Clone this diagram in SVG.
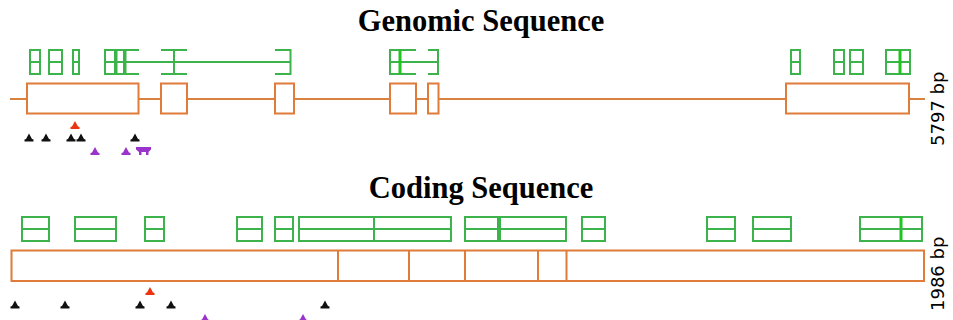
<svg xmlns="http://www.w3.org/2000/svg" xmlns:xlink="http://www.w3.org/1999/xlink" width="953" height="320" viewBox="0 0 953 320">
<style>
.title{font-family:"Liberation Serif","Times New Roman",serif;font-weight:bold;font-size:30.5px;fill:#000;text-anchor:middle}
.len{font-family:"DejaVu Sans",sans-serif;font-size:18px;fill:#000}
.ex{fill:#fff;stroke:#e07b39;stroke-width:2}
.intron{stroke:#d9823f;stroke-width:2;fill:none}
.dom{fill:none;stroke:#3cb44b;stroke-width:2}
.thick{stroke:#1fc41f;stroke-width:3}
.blk{fill:#111}
.red{fill:#ee3311}
.pur{fill:#9933cc}
</style>
<defs>
<path id="tri" d="M0,0 L3,5.5 L4.5,6 L4.5,8 L-4.5,8 L-4.5,6 L-3,5.5 Z"/>
</defs>
<g id="genomic">
<text class="title" x="481" y="31">Genomic Sequence</text>
<text class="len" transform="translate(944,146) rotate(-90)">5797 bp</text>
<g id="genomic-domains">
<rect class="dom" x="30" y="50" width="10" height="24"/>
<rect class="dom" x="49" y="50" width="13" height="24"/>
<rect class="dom" x="73" y="50" width="6" height="24"/>
<rect class="dom" x="105" y="50" width="10" height="24"/>
<rect class="dom" x="116.5" y="50" width="7.5" height="24"/>
<line class="dom" x1="30" y1="62" x2="40" y2="62"/>
<line class="dom" x1="49" y1="62" x2="62" y2="62"/>
<line class="dom" x1="73" y1="62" x2="79" y2="62"/>
<line class="dom" x1="105" y1="62" x2="115" y2="62"/>
<line class="dom" x1="116.5" y1="62" x2="124" y2="62"/>
<path class="dom" d="M139,50 H125.5 V74 H139 M125.5,62 H290.5 M161,50 H187 M161,74 H187 M174,50 V74 M275,50 H290.5 V74 H275"/>
<path class="dom" d="M416,50 H390 V74 H416 M390,62 H438 M428,50 H438 V74 H428"/>
<line class="thick" x1="400" y1="50" x2="400" y2="74"/>
<rect class="dom" x="791" y="50" width="9" height="24"/>
<rect class="dom" x="834" y="50" width="10" height="24"/>
<rect class="dom" x="850" y="50" width="13" height="24"/>
<rect class="dom" x="886" y="50" width="24" height="24"/>
<line class="dom" x1="791" y1="62" x2="800" y2="62"/>
<line class="dom" x1="834" y1="62" x2="844" y2="62"/>
<line class="dom" x1="850" y1="62" x2="863" y2="62"/>
<line class="dom" x1="886" y1="62" x2="910" y2="62"/>
<line class="thick" x1="900" y1="50" x2="900" y2="74"/>
</g>
<line class="intron" x1="10" y1="99" x2="925" y2="99"/>
<g id="genomic-exons">
<rect class="ex" x="27" y="83.5" width="111.5" height="30"/>
<rect class="ex" x="161" y="83.5" width="26" height="30"/>
<rect class="ex" x="275" y="83.5" width="19" height="30"/>
<rect class="ex" x="390" y="83.5" width="26" height="30"/>
<rect class="ex" x="428" y="83.5" width="10.5" height="30"/>
<rect class="ex" x="786" y="83.5" width="123" height="30"/>
</g>
<g id="genomic-sites">
<use xlink:href="#tri" class="red" x="75" y="121"/>
<use xlink:href="#tri" class="blk" x="29" y="133.5"/>
<use xlink:href="#tri" class="blk" x="46" y="133.5"/>
<use xlink:href="#tri" class="blk" x="71" y="133.5"/>
<use xlink:href="#tri" class="blk" x="81" y="133.5"/>
<use xlink:href="#tri" class="blk" x="135" y="133.5"/>
<use xlink:href="#tri" class="pur" x="95" y="147"/>
<use xlink:href="#tri" class="pur" x="126" y="147"/>
<path class="pur" d="M136,147 H151 V149.5 L148.5,152 V155 H146 V152 H141.5 V155 H139 V152 L136,149.5 Z"/>
</g>
</g>
<g id="coding">
<text class="title" x="481" y="198">Coding Sequence</text>
<text class="len" transform="translate(944,311) rotate(-90)">1986 bp</text>
<g id="coding-domains">
<rect class="dom" x="22" y="217" width="27" height="24"/>
<rect class="dom" x="75" y="217" width="41" height="24"/>
<rect class="dom" x="145" y="217" width="19" height="24"/>
<rect class="dom" x="237" y="217" width="25" height="24"/>
<rect class="dom" x="275" y="217" width="18" height="24"/>
<rect class="dom" x="299" y="217" width="152" height="24"/>
<line class="dom" x1="374" y1="217" x2="374" y2="241"/>
<rect class="dom" x="465" y="217" width="33" height="24"/>
<rect class="dom" x="500" y="217" width="66" height="24"/>
<rect class="dom" x="582" y="217" width="23" height="24"/>
<rect class="dom" x="707" y="217" width="28" height="24"/>
<rect class="dom" x="753" y="217" width="38" height="24"/>
<rect class="dom" x="860" y="217" width="62" height="24"/>
<line class="thick" x1="901" y1="217" x2="901" y2="241"/>
<path class="dom" d="M22,229 H49 M75,229 H116 M145,229 H164 M237,229 H262 M275,229 H293 M299,229 H451 M465,229 H498 M500,229 H566 M582,229 H605 M707,229 H735 M753,229 H791 M860,229 H922"/>
</g>
<g id="coding-exons">
<rect class="ex" x="11.5" y="250.5" width="912.5" height="30.5"/>
<path class="ex" d="M338,250.5 V281 M409,250.5 V281 M465,250.5 V281 M538,250.5 V281 M566.5,250.5 V281"/>
</g>
<g id="coding-sites">
<use xlink:href="#tri" class="red" x="150" y="287"/>
<use xlink:href="#tri" class="blk" x="15" y="300.5"/>
<use xlink:href="#tri" class="blk" x="65" y="300.5"/>
<use xlink:href="#tri" class="blk" x="140" y="300.5"/>
<use xlink:href="#tri" class="blk" x="171" y="300.5"/>
<use xlink:href="#tri" class="blk" x="325" y="300.5"/>
<use xlink:href="#tri" class="pur" x="205" y="314"/>
<use xlink:href="#tri" class="pur" x="303" y="314"/>
</g>
</g>
</svg>
